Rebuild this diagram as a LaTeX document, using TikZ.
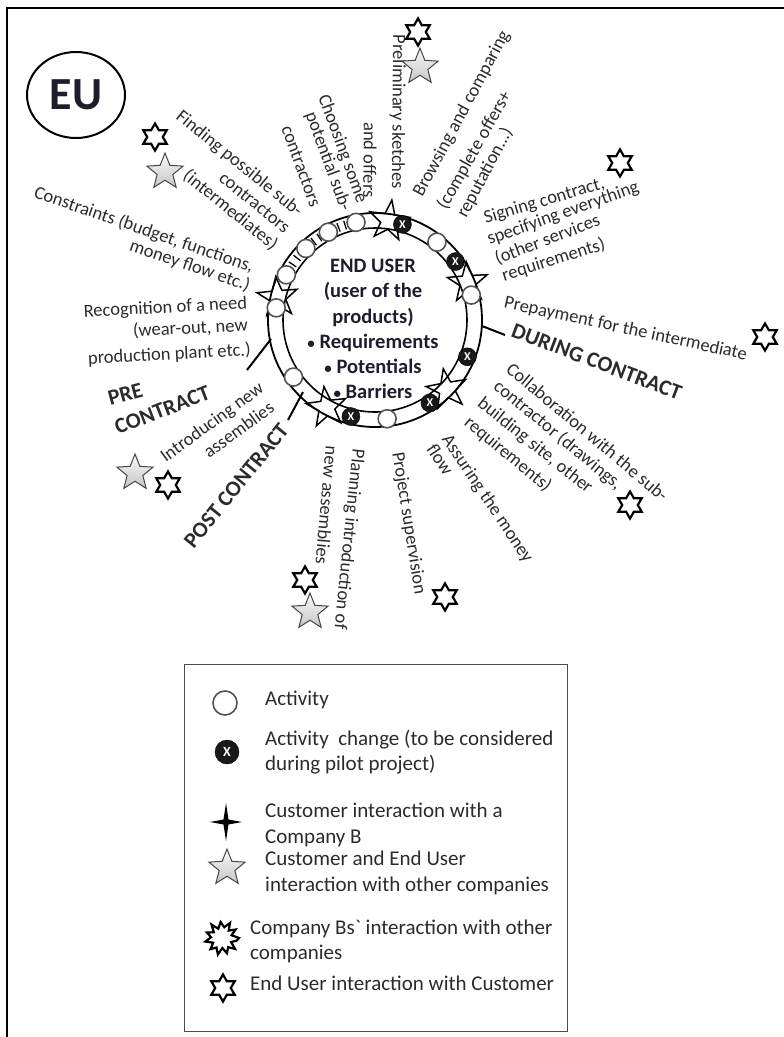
\documentclass[tikz,border=0pt]{standalone}
\usepackage{fontspec}
\setmainfont{Carlito}
\usetikzlibrary{shapes.geometric}
\definecolor{txt}{HTML}{2B2B2B}
\definecolor{ctr}{HTML}{1E1E2A}
\newcommand{\smallbullet}{{\fontsize{15}{15}\selectfont•}}
\tikzset{
  lbl/.style={font=\fontsize{18.5}{22}\selectfont, text=txt, inner sep=0pt, anchor=mid},
  phase/.style={font=\fontsize{22}{26}\selectfont\bfseries, text=txt, inner sep=0pt, anchor=mid},
  legtxt/.style={font=\fontsize{21}{25.6}\selectfont, text=txt, inner sep=0pt, anchor=mid west},
  act/.style={circle, draw=gray!65!black, line width=1.6pt, fill=white, minimum size=18pt, inner sep=0pt},
  xact/.style={circle, fill=black!90, draw=black, minimum size=18pt, inner sep=0pt,
               text=white, font=\fontsize{12}{12}\selectfont\bfseries},
  ringstar/.style={star, star points=5, star point ratio=2.5, minimum size=42pt, inner sep=0pt,
                   draw=black, line width=1.5pt, fill=white},
  hexa/.style={star, star points=6, star point ratio=1.732, minimum size=27pt, inner sep=0pt,
               draw=black, line width=2.2pt, fill=white},
  greystar/.style={star, star points=5, star point ratio=2.3, minimum size=38pt, inner sep=0pt,
                   draw=gray!55!black, line width=1pt, top color=gray!5, bottom color=gray!45},
  divider/.style={line width=2pt, black},
  rung/.style={line width=1.3pt, black}
}
\begin{document}
\begin{tikzpicture}[x=1pt,y=-1pt]
\useasboundingbox (0,0) rectangle (784,1037);
% outer frame
\draw[line width=2pt] (790,8) -- (7,8) -- (7,1045);

% EU badge
\node[draw, ellipse, line width=2pt, minimum width=98pt, minimum height=86pt, inner sep=0pt,
      font=\fontsize{46}{46}\selectfont\bfseries, text=ctr] (eu) at (76,95) {EU};

% ---------- ring ----------
\coordinate (C) at (375,320);
% white band
\fill[white, even odd rule] (C) circle[radius=107pt] (C) circle[radius=92pt];
% phase markers on the ring
\foreach \a/\n in {82/s1, 22/s2, -44/s3, -119/s4, 167/s5}
  \path (C) ++(\a:100pt) node[ringstar, rotate=\a-90] (\n) {};
% band outlines
\draw[line width=1.8pt] (C) circle[radius=107pt];
\draw[line width=1.6pt] (C) circle[radius=92pt];
% rungs between the early activities
\foreach \a in {141.5, 146, 124, 128, 107.5, 111.5}
  \draw[rung] (C) ++(\a:95pt) -- ++(\a:9pt);
% activities
\foreach \a [count=\i] in {153, 134, 118, 101, 51.5, 14.5, -83, -145, 173}
  \path (C) ++(\a:99.5pt) node[act] (a\i) {};
% activity changes
\foreach \a [count=\i] in {74, 36, -21.7, -56.5, -104}
  \path (C) ++(\a:99.5pt) node[xact] (x\i) {X};

% phase dividers
\draw[divider] (247,370) -- (271,339);
\draw[divider] (288,420) -- (303,392);
\draw[divider] (482,326) -- (505,335);

% centre text
\node[font=\fontsize{20.5}{25.2}\selectfont\bfseries, text=ctr, align=center, inner sep=0pt] (cu) at (373,329)
  {END USER\\(user of the\\products)\\\smallbullet\ Requirements\\\smallbullet\ Potentials\\\smallbullet\ Barriers};

% ---------- activity labels ----------
\node[lbl, rotate=-39] (t1) at (237.5,166) {Finding possible sub-};
\node[lbl, rotate=-39] (t2) at (252.5,205) {contractors};
\node[lbl, rotate=-39] (t3) at (228.5,212.5) {(intermediates)};
\node[lbl, rotate=-19] (t4) at (143,232.5) {Constraints (budget, functions,};
\node[lbl, rotate=-19] (t5) at (189,268.5) {money flow etc.)};
\node[lbl, rotate=3] (t6) at (165.5,310.5) {Recognition of a need};
\node[lbl, rotate=3] (t7) at (190.5,331.5) {(wear-out, new};
\node[lbl, rotate=3] (t8) at (169.5,357.5) {production plant etc.)};
\node[lbl, rotate=36] (t9) at (214,425) {Introducing new};
\node[lbl, rotate=36] (t10) at (241,432.5) {assemblies};
\node[lbl, rotate=-95.8] (t11) at (346,539) {Planning introduction of};
\node[lbl, rotate=-95] (t12) at (323,505) {new assemblies};
\node[lbl, rotate=-81] (t13) at (406,523.5) {Project supervision};
\node[lbl, rotate=-56] (t14) at (485,500.5) {Assuring the money};
\node[lbl, rotate=-56] (t15) at (437,462) {flow};
\node[lbl, rotate=-40] (t16) at (585,435) {Collaboration with the sub-};
\node[lbl, rotate=-39.5] (t17) at (556,437.5) {contractor (drawings,};
\node[lbl, rotate=-38.5] (t18) at (533.5,448) {building site, other};
\node[lbl, rotate=-39.7] (t19) at (506,456.5) {requirements)};
\node[lbl, rotate=-12.2] (t20) at (625,331.5) {Prepayment for the intermediate};
\node[lbl, rotate=16.6] (t21) at (545,203.5) {Signing contract,};
\node[lbl, rotate=19.4] (t22) at (564,216) {specifying everything};
\node[lbl, rotate=21] (t23) at (548.5,242.5) {(other services};
\node[lbl, rotate=17.5] (t24) at (554.5,263) {requirements)};
\node[lbl, rotate=61.8] (t25) at (464,115) {Browsing and comparing};
\node[lbl, rotate=60.4] (t26) at (477,151.5) {(complete offers+};
\node[lbl, rotate=62] (t27) at (487.5,174) {reputation...)};
\node[lbl, rotate=-90.5] (t28) at (395,112) {Preliminary sketches};
\node[lbl, rotate=-90.5] (t29) at (366,160) {and offers};
\node[lbl, rotate=-70] (t30) at (340,150) {Choosing some};
\node[lbl, rotate=-70] (t31) at (325.5,162.5) {potential sub-};
\node[lbl, rotate=-70] (t32) at (298,167.5) {contractors};

% phase names
\node[phase, rotate=15] (p1) at (126.5,399) {PRE};
\node[phase, rotate=21] (p2) at (164,414.5) {CONTRACT};
\node[phase, rotate=51] (p3) at (240,488.5) {POST CONTRACT};
\node[phase, rotate=-20.7] (p4) at (595,366) {DURING CONTRACT};

% interaction symbols
\foreach \x/\y [count=\i] in {155/137, 418/32, 620/163, 765/337, 630/505, 445/597, 305/580, 168/485}
  \node[hexa] (h\i) at (\x,\y) {};
\foreach \x/\y [count=\i] in {165/172, 420/67, 310/612, 135/473}
  \node[greystar] (g\i) at (\x,\y) {};

% ---------- legend ----------
\draw[gray!60!black, line width=1pt] (184,664) rectangle (567,1031);
\node[act, minimum size=24pt] (la) at (225,703) {};
\node[legtxt] (lt1) at (265,703) {Activity};
\node[xact, minimum size=24pt, font=\fontsize{14}{14}\selectfont\bfseries] (lx) at (227,752) {X};
\node[legtxt] (lt2) at (265,743) {Activity\ \ change (to be considered};
\node[legtxt] (lt3) at (265,768) {during pilot project)};
\fill[black] (226,803) -- (228.5,819.5) -- (242,822) -- (228.5,824.5) -- (226,841)
   -- (223.5,824.5) -- (210,822) -- (223.5,819.5) -- cycle;
\node[legtxt] (lt4) at (265,815) {Customer interaction with a};
\node[legtxt] (lt5) at (265,841) {Company B};
\node[greystar] (lg) at (227,868) {};
\node[legtxt] (lt6) at (265,863) {Customer and End User};
\node[legtxt] (lt7) at (265,889) {interaction with other companies};
\begin{scope}[shift={(222,938)}]
  \draw[line width=2.2pt, fill=white, line join=miter]
    (0:17pt) -- (16:10pt) -- (32:16pt) -- (48:10pt) -- (62:17pt) -- (78:11pt) -- (95:16pt)
    -- (112:10pt) -- (128:17pt) -- (145:10pt) -- (160:16pt) -- (176:11pt) -- (192:17pt)
    -- (208:10pt) -- (224:16pt) -- (240:11pt) -- (256:17pt) -- (272:10pt) -- (288:16pt)
    -- (304:11pt) -- (320:17pt) -- (336:10pt) -- (350:15pt) -- cycle;
\end{scope}
\node[legtxt] (lt8) at (250,932) {Company Bs\textasciigrave\ interaction with other};
\node[legtxt] (lt9) at (250,957) {companies};
\node[hexa] (lh) at (223,988) {};
\node[legtxt] (lt10) at (250,988) {End User interaction with Customer};
\end{tikzpicture}
\end{document}
